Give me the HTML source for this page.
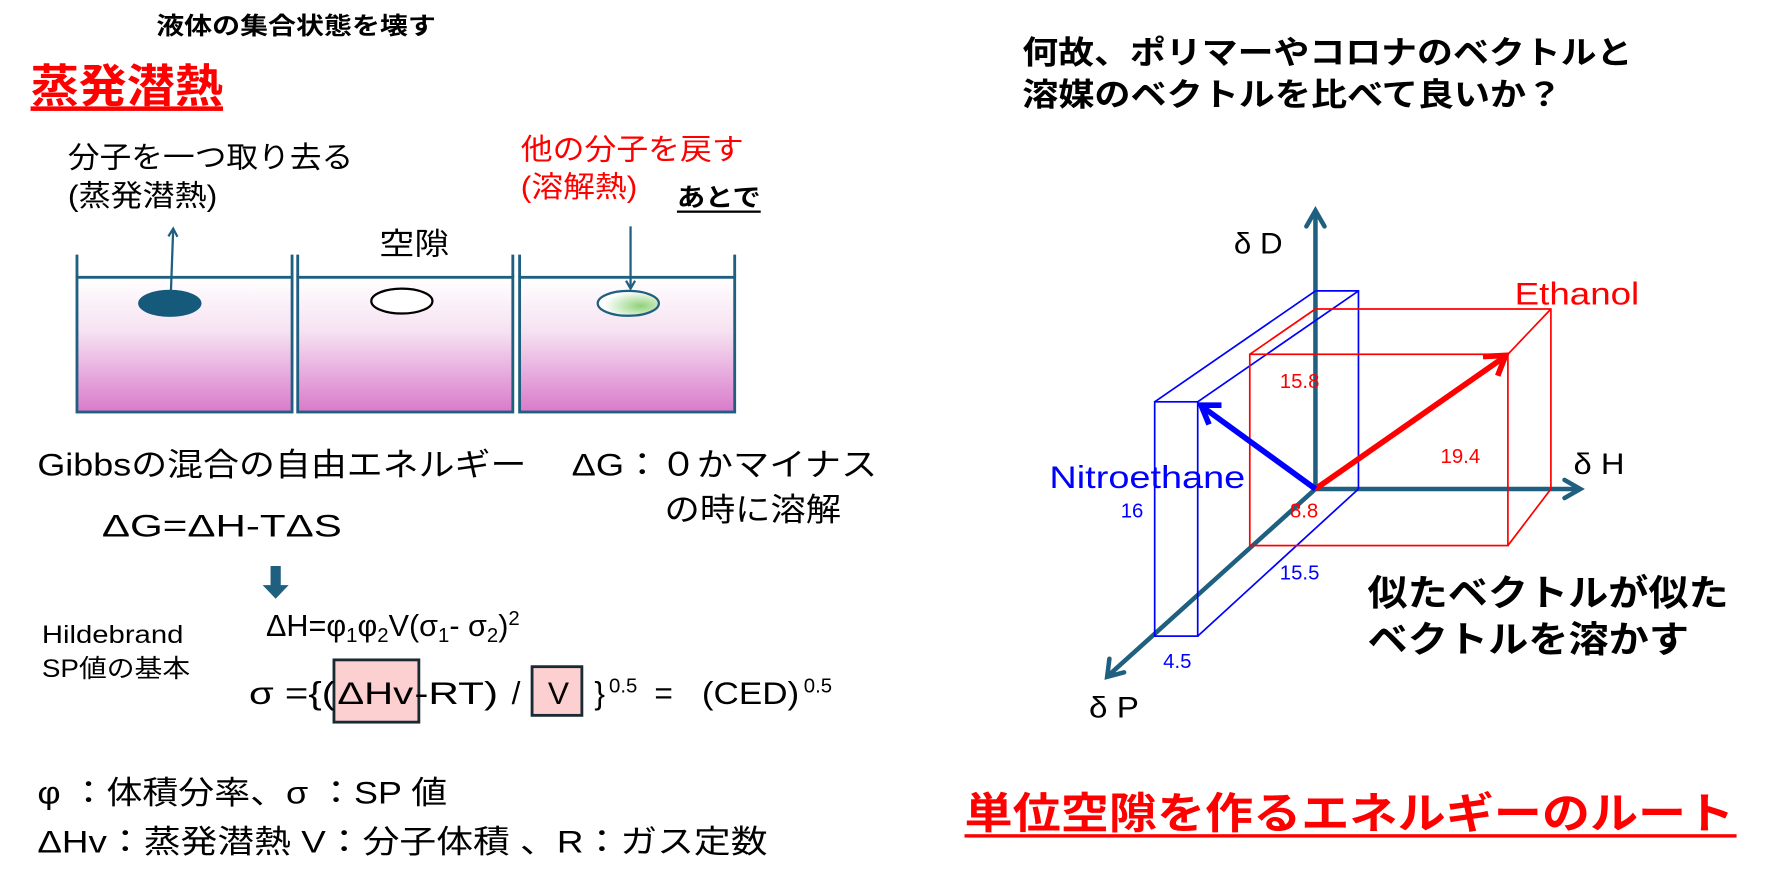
<!DOCTYPE html>
<html><head><meta charset="utf-8"><style>
html,body{margin:0;padding:0;background:#fff;}
svg{display:block;}
text{font-family:"Liberation Sans","Noto Sans CJK JP",sans-serif;}
.b{font-weight:bold;}
</style></head><body>
<svg width="1766" height="884" viewBox="0 0 1560 781" preserveAspectRatio="none" xmlns="http://www.w3.org/2000/svg">
<defs>
<linearGradient id="liq" x1="0" y1="0" x2="0" y2="1">
<stop offset="0" stop-color="#ffffff"/><stop offset="0.4" stop-color="#f6e2f2"/><stop offset="1" stop-color="#d97acb"/>
</linearGradient>
<radialGradient id="gr" cx="0.7" cy="0.6" r="0.6"><stop offset="0" stop-color="#8fd27a"/><stop offset="1" stop-color="#ffffff"/></radialGradient>
<marker id="ah" markerWidth="10" markerHeight="10" refX="8" refY="5" orient="auto" markerUnits="userSpaceOnUse"><path d="M1,1 L8,5 L1,9" fill="none" stroke="#1f5f7f" stroke-width="2"/></marker>
</defs>
<g>
<text x="138" y="30" font-size="21" class="b" textLength="247" lengthAdjust="spacingAndGlyphs">液体の集合状態を壊す</text>
<text x="27" y="90" font-size="40" class="b" fill="#ff0000" textLength="170" lengthAdjust="spacingAndGlyphs">蒸発潜熱</text>
<rect x="27" y="94" width="170" height="4" fill="#ff0000"/>
<text x="60" y="148" font-size="26" textLength="252" lengthAdjust="spacingAndGlyphs">分子を一つ取り去る</text>
<text x="60" y="182" font-size="26" textLength="132" lengthAdjust="spacingAndGlyphs">(蒸発潜熱)</text>
<text x="460" y="141" font-size="26" fill="#ff0000" textLength="197" lengthAdjust="spacingAndGlyphs">他の分子を戻す</text>
<text x="460" y="174" font-size="26" fill="#ff0000" textLength="103" lengthAdjust="spacingAndGlyphs">(溶解熱)</text>
<text x="598" y="182" font-size="22" class="b" textLength="74" lengthAdjust="spacingAndGlyphs">あとで</text>
<rect x="598" y="186" width="74" height="2" fill="#000"/>
<text x="335" y="225" font-size="27" textLength="62" lengthAdjust="spacingAndGlyphs">空隙</text>
</g>
<g stroke="#1f5f7f" stroke-width="2.5" fill="url(#liq)">
<rect x="68" y="245" width="190" height="119"/><rect x="263" y="245" width="190" height="119"/><rect x="459" y="245" width="190" height="119"/>
</g>
<g stroke="#1f5f7f" stroke-width="2.5" fill="none">
<path d="M68 225V245M258 225V245M263 225V245M453 225V245M459 225V245M649 225V245"/>
</g>
<ellipse cx="150" cy="268" rx="28" ry="12" fill="#155a7a"/>
<ellipse cx="355" cy="266" rx="27" ry="11" fill="#fff" stroke="#000" stroke-width="2"/>
<ellipse cx="555" cy="268" rx="27" ry="11" fill="url(#gr)" stroke="#1f5f7f" stroke-width="2"/>
<line x1="151" y1="257" x2="153" y2="202" stroke="#1f5f7f" stroke-width="2" marker-end="url(#ah)"/>
<line x1="557" y1="200" x2="557" y2="255" stroke="#1f5f7f" stroke-width="2" marker-end="url(#ah)"/>

<text x="33" y="420" font-size="28" textLength="432" lengthAdjust="spacingAndGlyphs">Gibbsの混合の自由エネルギー</text>
<text x="505" y="420" font-size="28" textLength="270" lengthAdjust="spacingAndGlyphs">ΔG：０かマイナス</text>
<text x="587" y="460" font-size="28" textLength="156" lengthAdjust="spacingAndGlyphs">の時に溶解</text>
<text x="90" y="474" font-size="28" textLength="212" lengthAdjust="spacingAndGlyphs">ΔG=ΔH-TΔS</text>
<path d="M239 500h9v17h7l-11.5 12l-11.5-12h7z" fill="#1f5f7f"/>
<text x="37" y="568" font-size="22" textLength="125" lengthAdjust="spacingAndGlyphs">Hildebrand</text>
<text x="37" y="598" font-size="22" textLength="131" lengthAdjust="spacingAndGlyphs">SP値の基本</text>
<text x="235" y="562" font-size="27">ΔH=φ<tspan font-size="18" dy="5">1</tspan><tspan dy="-5">φ</tspan><tspan font-size="18" dy="5">2</tspan><tspan dy="-5">V(σ</tspan><tspan font-size="18" dy="5">1</tspan><tspan dy="-5">- σ</tspan><tspan font-size="18" dy="5">2</tspan><tspan dy="-5">)</tspan><tspan font-size="18" dy="-10">2</tspan></text>
<rect x="295" y="583" width="75" height="55" fill="#fcd0d0" stroke="#1a2a33" stroke-width="2.5"/>
<rect x="470" y="589" width="44" height="43" fill="#fcd0d0" stroke="#1a2a33" stroke-width="2.5"/>
<g font-size="28">
<text x="220" y="622" textLength="76" lengthAdjust="spacingAndGlyphs">σ ={(</text>
<text x="298" y="622" textLength="67" lengthAdjust="spacingAndGlyphs">ΔHv</text>
<text x="366" y="622" textLength="74" lengthAdjust="spacingAndGlyphs">-RT)</text>
<text x="452" y="622">/</text>
<text x="484" y="622">V</text>
<text x="525" y="622">}</text>
<text x="538" y="612" font-size="18">0.5</text>
<text x="578" y="622">=</text>
<text x="620" y="622" textLength="86" lengthAdjust="spacingAndGlyphs">(CED)</text>
<text x="710" y="612" font-size="18">0.5</text>
</g>
<text x="33" y="710" font-size="28" textLength="362" lengthAdjust="spacingAndGlyphs">φ ：体積分率、σ ：SP 値</text>
<text x="33" y="753" font-size="28" textLength="645" lengthAdjust="spacingAndGlyphs">ΔHv：蒸発潜熱  V：分子体積 、R：ガス定数</text>

<text x="903" y="56" font-size="28" class="b" textLength="539" lengthAdjust="spacingAndGlyphs">何故、ポリマーやコロナのベクトルと</text>
<text x="903" y="93" font-size="28" class="b" textLength="477" lengthAdjust="spacingAndGlyphs">溶媒のベクトルを比べて良いか？</text>

<g stroke="#1f5f7f" stroke-width="4" fill="none" stroke-linecap="round">
<line x1="1162" y1="432" x2="1162" y2="188"/><path d="M1154 200L1162 186L1170 200"/>
<line x1="1162" y1="432" x2="1394" y2="432"/><path d="M1382 424L1396 432L1382 440"/>
<line x1="1162" y1="432" x2="980" y2="596"/><path d="M980 582L978 598L993 594"/>
</g>
<g stroke="#0000ff" stroke-width="1.5" fill="none">
<rect x="1020" y="355" width="38" height="207"/>
<path d="M1162 257H1200V432M1020 355L1162 257M1058 355L1200 257M1058 562L1200 432"/>
</g>
<g stroke="#ff0000" stroke-width="1.5" fill="none">
<rect x="1104" y="313" width="228" height="169"/>
<path d="M1162 273H1370V432M1104 313L1162 273M1332 313L1370 273M1332 482L1370 432"/>
</g>
<line x1="1162" y1="432" x2="1328" y2="316" stroke="#ff0000" stroke-width="5"/>
<path d="M1310 315L1330 314L1323 332" stroke="#ff0000" stroke-width="5" fill="none"/>
<line x1="1162" y1="432" x2="1063" y2="360" stroke="#0000ff" stroke-width="5"/>
<path d="M1079 358L1061 358L1068 375" stroke="#0000ff" stroke-width="5" fill="none"/>
<text x="1090" y="224" font-size="26" textLength="43" lengthAdjust="spacingAndGlyphs">δ D</text>
<text x="1390" y="419" font-size="26" textLength="45" lengthAdjust="spacingAndGlyphs">δ H</text>
<text x="962" y="634" font-size="26" textLength="44" lengthAdjust="spacingAndGlyphs">δ P</text>
<text x="1338" y="269" font-size="28" fill="#ff0000" textLength="110" lengthAdjust="spacingAndGlyphs">Ethanol</text>
<text x="927" y="431" font-size="28" fill="#0000ff" textLength="173" lengthAdjust="spacingAndGlyphs">Nitroethane</text>
<g font-size="18" text-anchor="middle">
<text x="1148" y="343" fill="#ff0000">15.8</text>
<text x="1290" y="409" fill="#ff0000">19.4</text>
<text x="1152" y="457" fill="#ff0000">8.8</text>
<text x="1000" y="457" fill="#0000ff">16</text>
<text x="1148" y="512" fill="#0000ff">15.5</text>
<text x="1040" y="590" fill="#0000ff">4.5</text>
</g>
<text x="1208" y="535" font-size="32" class="b" textLength="319" lengthAdjust="spacingAndGlyphs">似たベクトルが似た</text>
<text x="1208" y="576" font-size="32" class="b" textLength="284" lengthAdjust="spacingAndGlyphs">ベクトルを溶かす</text>
<text x="852" y="732" font-size="38" class="b" fill="#ff0000" textLength="680" lengthAdjust="spacingAndGlyphs">単位空隙を作るエネルギーのルート</text>
<rect x="852" y="737" width="682" height="3" fill="#ff0000"/>
</svg>
</body></html>
